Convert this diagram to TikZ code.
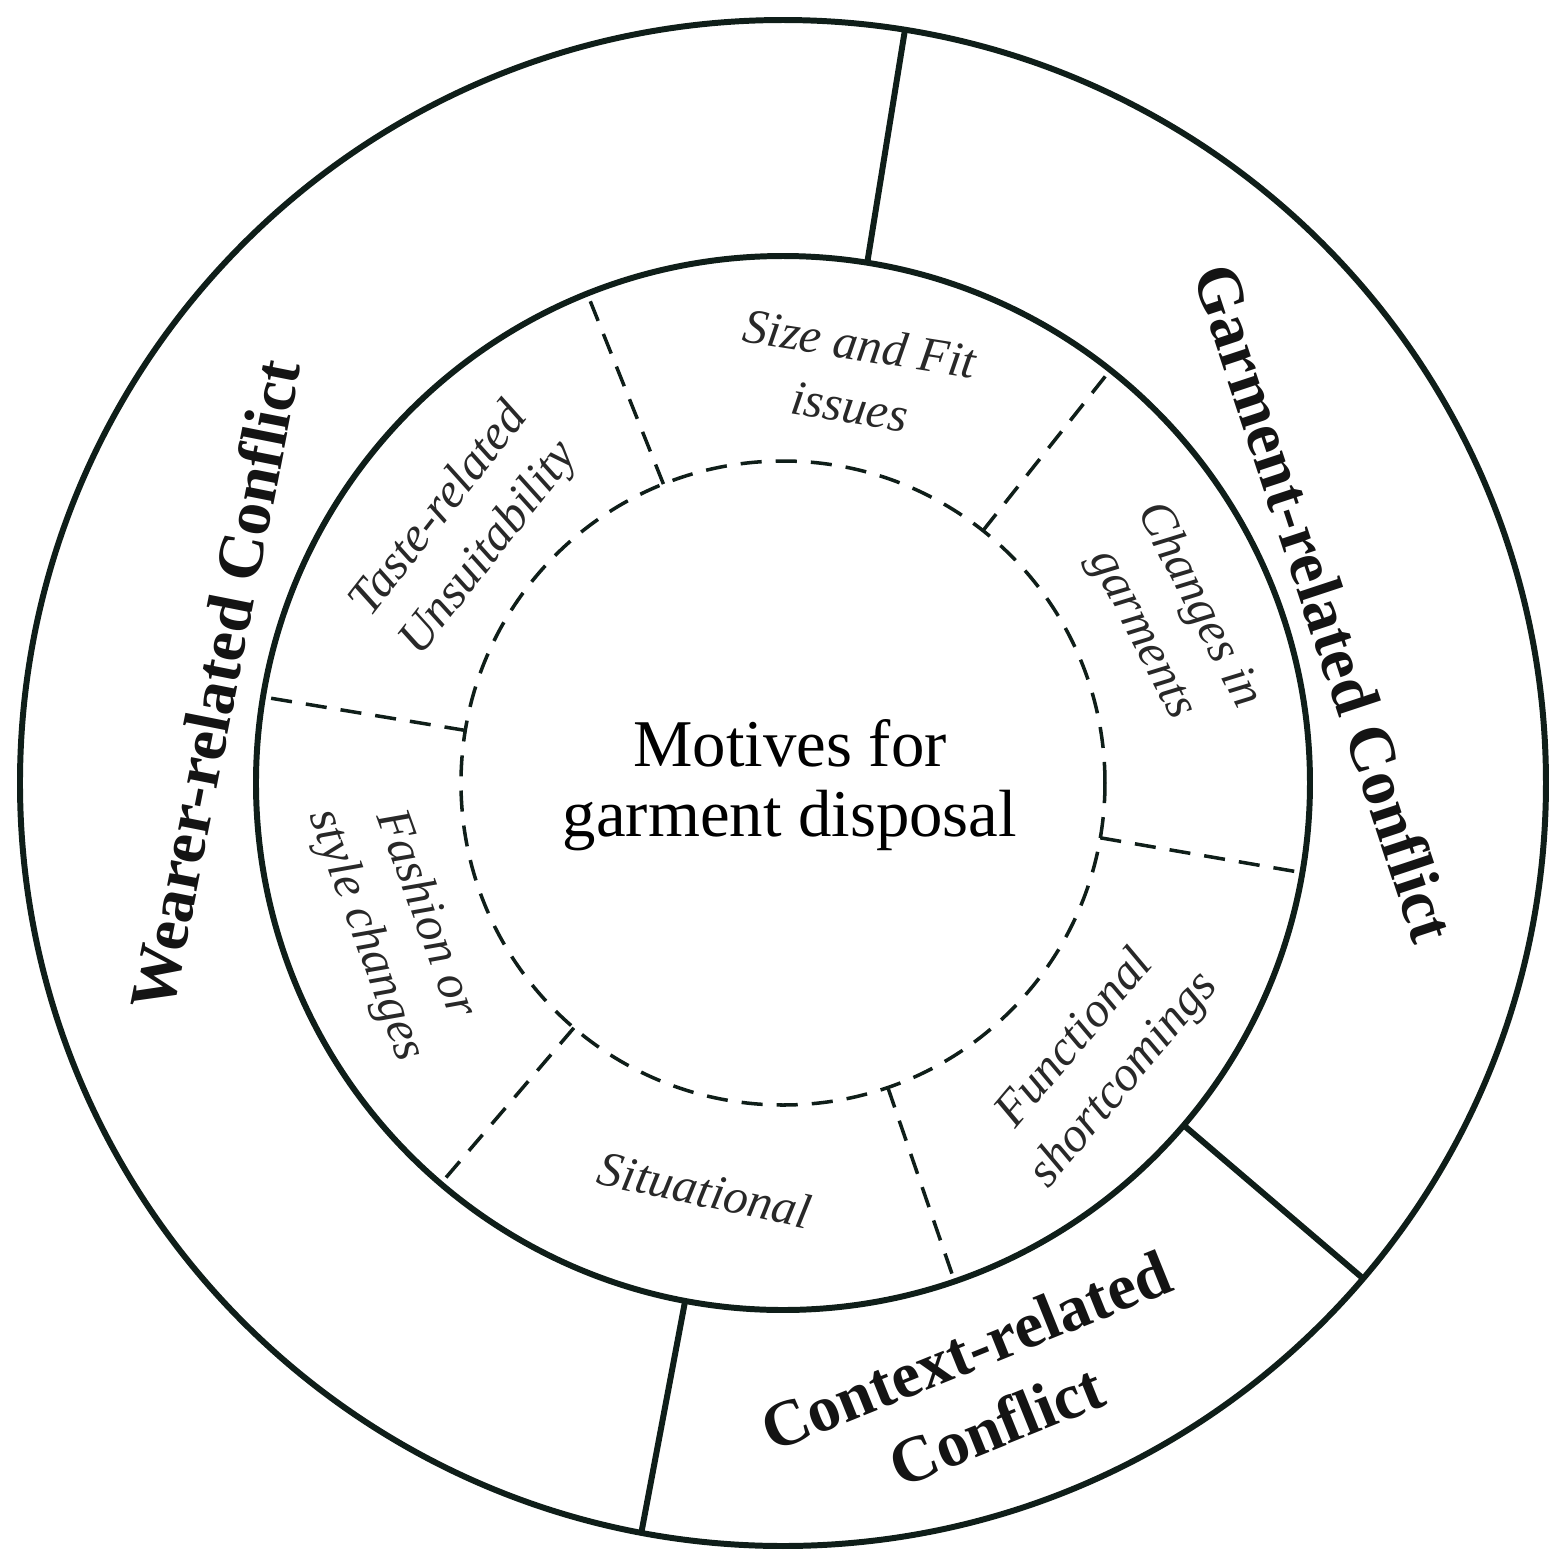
\documentclass[tikz,border=0pt]{standalone}
\usepackage{fontspec}
\setmainfont{Liberation Serif}
\begin{document}
\begin{tikzpicture}[
  solidc/.style={line width=1.7pt, draw={rgb,255:red,15;green,30;blue,25}},
  dashc/.style={line width=1pt, dashed, dash pattern=on 6pt off 4pt, draw={rgb,255:red,15;green,30;blue,25}},
  outer/.style={font=\bfseries\fontsize{18.5}{23}\selectfont, align=center, text={rgb,255:red,20;green,20;blue,20}},
  inner/.style={font=\itshape\fontsize{14}{18}\selectfont, align=center, text={rgb,255:red,40;green,40;blue,40}}]
\useasboundingbox (-7.83,-7.83) rectangle (7.83,7.83);
\coordinate (c) at (0,0);
\draw[solidc] (c) circle (7.63);
\draw[solidc] (c) circle (5.27);
\draw[dashc] (c) circle (3.22);
% outer dividers
\foreach \a/\n in {80.8/o1,-40.5/o2,-100.7/o3}{
  \coordinate (\n a) at (\a:5.27); \coordinate (\n b) at (\a:7.63);
  \draw[solidc] (\n a) -- (\n b);}
% inner dividers
\foreach \a/\n in {111.8/i1,51.6/i2,-9.8/i3,-71/i4,-130.5/i5,170.6/i6}{
  \coordinate (\n a) at (\a:3.22); \coordinate (\n b) at (\a:5.27);
  \draw[dashc] (\n a) -- (\n b);}
\node[font=\fontsize{19}{20}\selectfont, align=center] (m) at (0.07,-0.02) {Motives for\\garment disposal};
\node[outer, rotate=78.8] (w) at (-5.68,0.98) {Wearer-related Conflict};
\node[outer, rotate=-71.7] (g) at (5.42,1.80) {Garment-related Conflict};
\node[outer, rotate=22] (cx) at (1.98,-6.05) {Context-related\\Conflict};
\node[inner, rotate=-9] (s) at (0.72,4.08) {Size and Fit\\issues};
\node[inner, rotate=52] (t) at (-3.18,2.53) {Taste-related\\Unsuitability};
\node[inner, rotate=-63] (ch) at (3.87,1.63) {Changes in\\garments};
\node[inner, rotate=-70] (f) at (-3.88,-1.42) {Fashion or\\style changes};
\node[inner, rotate=-12] (si) at (-0.78,-4.07) {Situational};
\node[inner, rotate=50] (fu) at (3.17,-2.77) {Functional\\shortcomings};
\end{tikzpicture}
\end{document}
